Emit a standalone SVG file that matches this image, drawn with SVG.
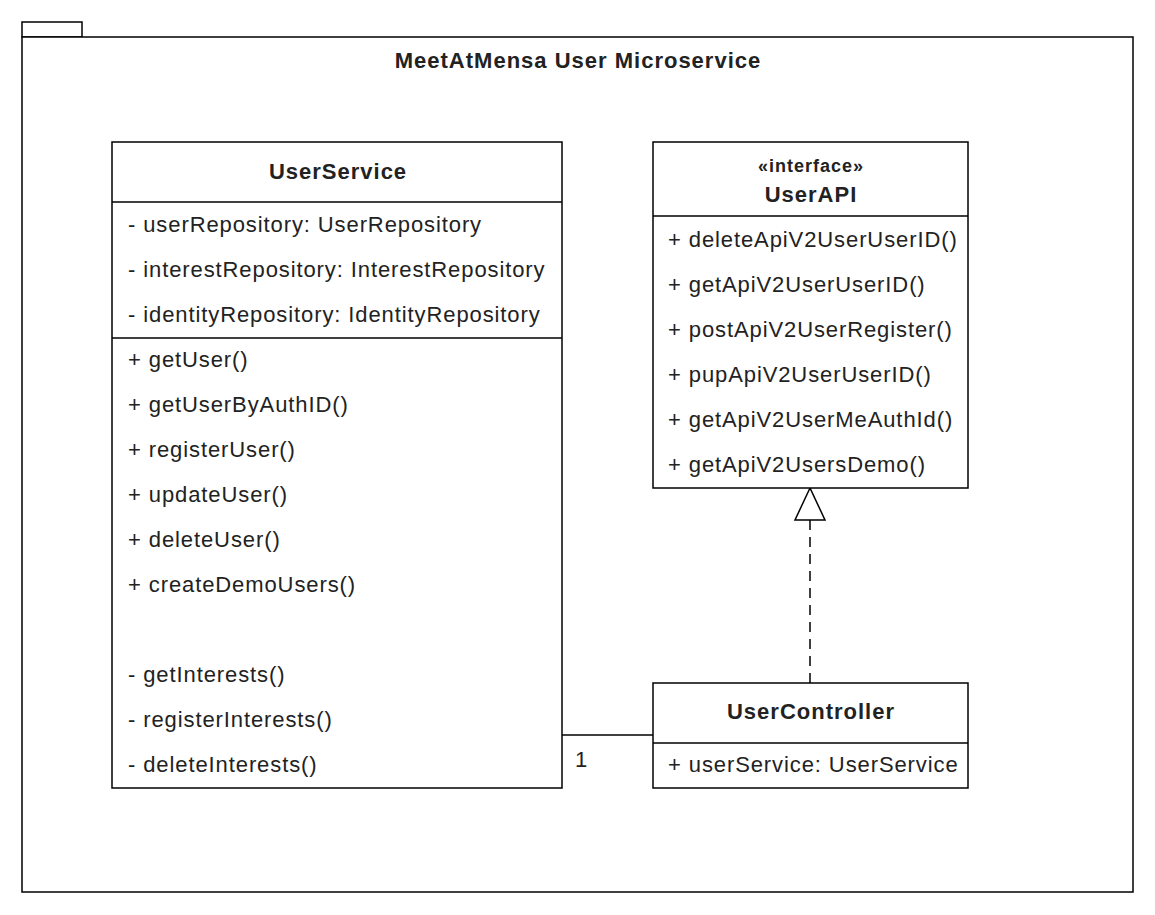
<svg xmlns="http://www.w3.org/2000/svg" width="1155" height="915" viewBox="0 0 1155 915">
<style>
.box{fill:#fff;stroke:#000;stroke-width:1.5}
.ln{stroke:#000;stroke-width:1.5;fill:none}
.t{font-family:"Liberation Sans",Arial,sans-serif;font-size:22px;letter-spacing:0.9px;fill:#222}
.b{font-weight:bold;text-anchor:middle;letter-spacing:1px}
.s{font-size:18px}
</style>
<rect width="1155" height="915" fill="#fff"/>
<g id="package">
<rect class="box" x="22" y="22" width="60" height="15"/>
<rect class="box" x="22" y="37" width="1111" height="855"/>
<text class="t b" x="578" y="68">MeetAtMensa User Microservice</text>
</g>
<g id="connectors">
<line class="ln" x1="562" y1="735" x2="653" y2="735"/>
<text class="t" x="575" y="767">1</text>
<line class="ln" x1="810" y1="683" x2="810" y2="520" stroke-dasharray="10,7"/>
<polygon class="box" points="810,488 795,520 825,520"/>
</g>
<g id="UserService">
<rect class="box" x="112" y="142" width="450" height="646"/>
<line class="ln" x1="112" y1="202" x2="562" y2="202"/>
<line class="ln" x1="112" y1="338" x2="562" y2="338"/>
<text class="t b" x="338" y="179">UserService</text>
<text class="t" x="128" y="232">- userRepository: UserRepository</text>
<text class="t" x="128" y="277">- interestRepository: InterestRepository</text>
<text class="t" x="128" y="322">- identityRepository: IdentityRepository</text>
<text class="t" x="128" y="367">+ getUser()</text>
<text class="t" x="128" y="412">+ getUserByAuthID()</text>
<text class="t" x="128" y="457">+ registerUser()</text>
<text class="t" x="128" y="502">+ updateUser()</text>
<text class="t" x="128" y="547">+ deleteUser()</text>
<text class="t" x="128" y="592">+ createDemoUsers()</text>
<text class="t" x="128" y="682">- getInterests()</text>
<text class="t" x="128" y="727">- registerInterests()</text>
<text class="t" x="128" y="772">- deleteInterests()</text>
</g>
<g id="UserAPI">
<rect class="box" x="653" y="142" width="315" height="346"/>
<line class="ln" x1="653" y1="216" x2="968" y2="216"/>
<text class="t b s" x="811" y="172">«interface»</text>
<text class="t b" x="811" y="202">UserAPI</text>
<text class="t" x="668" y="247">+ deleteApiV2UserUserID()</text>
<text class="t" x="668" y="292">+ getApiV2UserUserID()</text>
<text class="t" x="668" y="337">+ postApiV2UserRegister()</text>
<text class="t" x="668" y="382">+ pupApiV2UserUserID()</text>
<text class="t" x="668" y="427">+ getApiV2UserMeAuthId()</text>
<text class="t" x="668" y="472">+ getApiV2UsersDemo()</text>
</g>
<g id="UserController">
<rect class="box" x="653" y="683" width="315" height="105"/>
<line class="ln" x1="653" y1="743" x2="968" y2="743"/>
<text class="t b" x="811" y="719">UserController</text>
<text class="t" x="668" y="772">+ userService: UserService</text>
</g>
</svg>
